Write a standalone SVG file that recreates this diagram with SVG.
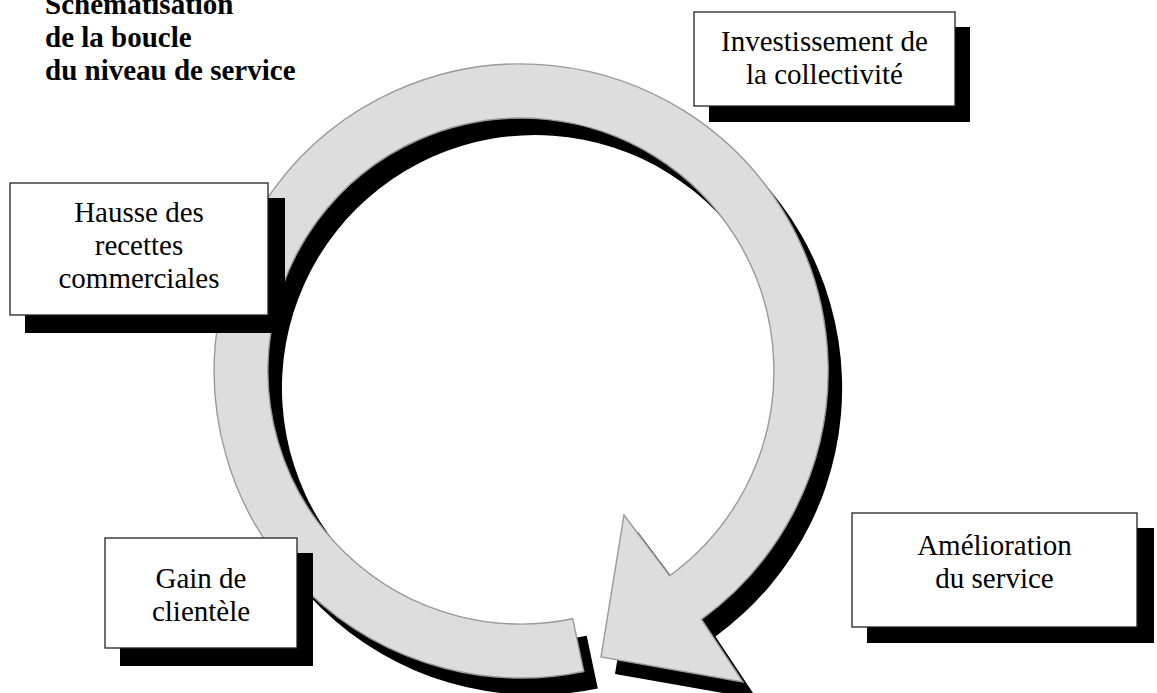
<svg xmlns="http://www.w3.org/2000/svg" width="1157" height="693" viewBox="0 0 1157 693">
<defs>
<style>
.t{font-family:"Liberation Serif","Times New Roman",serif;font-size:29px;fill:#000;text-anchor:middle}
.title{font-family:"Liberation Serif","Times New Roman",serif;font-size:29px;font-weight:bold;fill:#000}
.box{fill:#fff;stroke:#222;stroke-width:1.3}
.sh{fill:#000}
.arc{fill:#dddddd;stroke:#999;stroke-width:1.4;stroke-linejoin:miter}
</style>
<path id="loop" d="M572.7,618.7 L583.8,671.5 A307,307 0 1 1 701.5,619.4 L743,682 L601,657 L624,515 L669.7,575.7 A253,253 0 1 0 572.7,618.7 Z"/>
</defs>
<rect width="1157" height="693" fill="#fff"/>
<g id="title">
<text class="title" x="45" y="14">Schématisation</text>
<text class="title" x="45" y="47">de la boucle</text>
<text class="title" x="45" y="80">du niveau de service</text>
</g>
<g id="connectors">
<use href="#loop" class="sh" transform="translate(14,17)"/>
<use href="#loop" class="arc"/>
</g>
<g id="node-investissement">
<rect class="sh" x="709" y="27" width="261" height="95"/>
<rect class="box" x="694" y="12" width="261" height="94"/>
<text class="t" x="824.5" y="51">Investissement de</text>
<text class="t" x="824.5" y="84">la collectivité</text>
</g>
<g id="node-hausse">
<rect class="sh" x="25" y="198" width="260" height="135"/>
<rect class="box" x="10" y="183" width="258" height="132"/>
<text class="t" x="139" y="222">Hausse des</text>
<text class="t" x="139" y="255">recettes</text>
<text class="t" x="139" y="288">commerciales</text>
</g>
<g id="node-gain">
<rect class="sh" x="120" y="553" width="193" height="113"/>
<rect class="box" x="105" y="538" width="192" height="110"/>
<text class="t" x="201" y="588">Gain de</text>
<text class="t" x="201" y="621">clientèle</text>
</g>
<g id="node-amelioration">
<rect class="sh" x="867" y="528" width="287" height="115"/>
<rect class="box" x="852" y="513" width="285" height="114"/>
<text class="t" x="994.5" y="555">Amélioration</text>
<text class="t" x="994.5" y="588">du service</text>
</g>
</svg>
